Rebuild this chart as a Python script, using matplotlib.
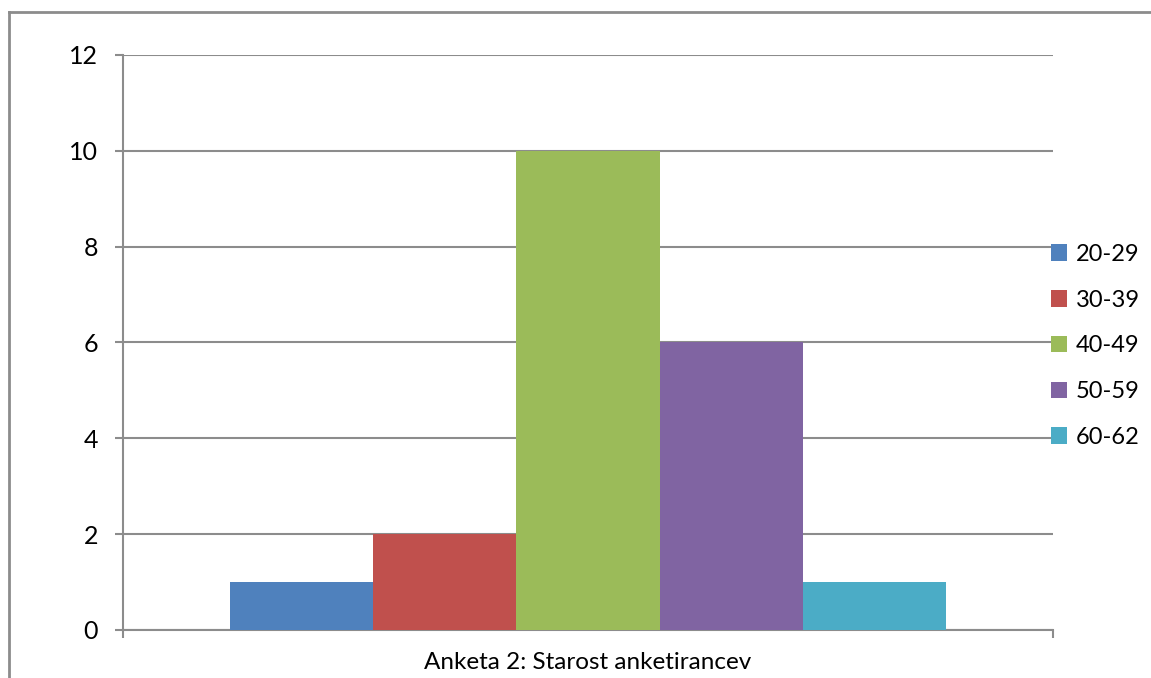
import matplotlib.pyplot as plt
from matplotlib.lines import Line2D

# age groups and number of respondents
groups = ["20-29", "30-39", "40-49", "50-59", "60-62"]
counts = [1, 2, 10, 6, 1]
colors = ["#4F81BD", "#C0504D", "#9BBB59", "#8064A2", "#4BACC6"]
yticks = [0, 2, 4, 6, 8, 10, 12]
xlabel = "Anketa 2: Starost anketirancev"

plt.rcParams['font.family'] = ['Lato', 'DejaVu Sans']
grid_col = "#8C8C8C"

fig = plt.figure(figsize=(11.51, 6.78), dpi=100)
ax = fig.add_axes([0.1069, 0.0708, 0.808, 0.8481])

w = 0.154
for i, (g, c, col) in enumerate(zip(groups, counts, colors)):
    ax.bar(0.5 + (i - 2) * w, c, width=w, color=col, label=g, zorder=3)

ax.set_xlim(0, 1)
ax.set_ylim(0, 12)
ax.set_yticks(yticks)
ax.set_xticks([0, 1])
ax.set_xticklabels([])
ax.yaxis.grid(True, color=grid_col, linewidth=1.5, zorder=0)
ax.tick_params(axis='y', length=6, width=1.5, color=grid_col, labelsize=18, pad=12)
ax.tick_params(axis='x', length=6, width=1.5, color=grid_col)
for s in ['top', 'right']:
    ax.spines[s].set_visible(False)
for s in ['left', 'bottom']:
    ax.spines[s].set_color(grid_col)
    ax.spines[s].set_linewidth(1.5)
ax.set_xlabel(xlabel, fontsize=17.5, labelpad=6)

ax.legend(loc='center left', bbox_to_anchor=(0.9875, 0.494), frameon=False,
          fontsize=17, handlelength=0.7, handleheight=0.7, handletextpad=0.35,
          labelspacing=1.05, borderaxespad=0)

# chart frame (left and top edges only are inside the picture)
fx = 9 / 1151
fy = 1 - 12 / 678
fig.add_artist(Line2D([fx, fx], [-0.01, fy], transform=fig.transFigure,
                      color=grid_col, linewidth=2))
fig.add_artist(Line2D([fx, 1.01], [fy, fy], transform=fig.transFigure,
                      color=grid_col, linewidth=2))

fig.savefig("out.png", dpi=100)
